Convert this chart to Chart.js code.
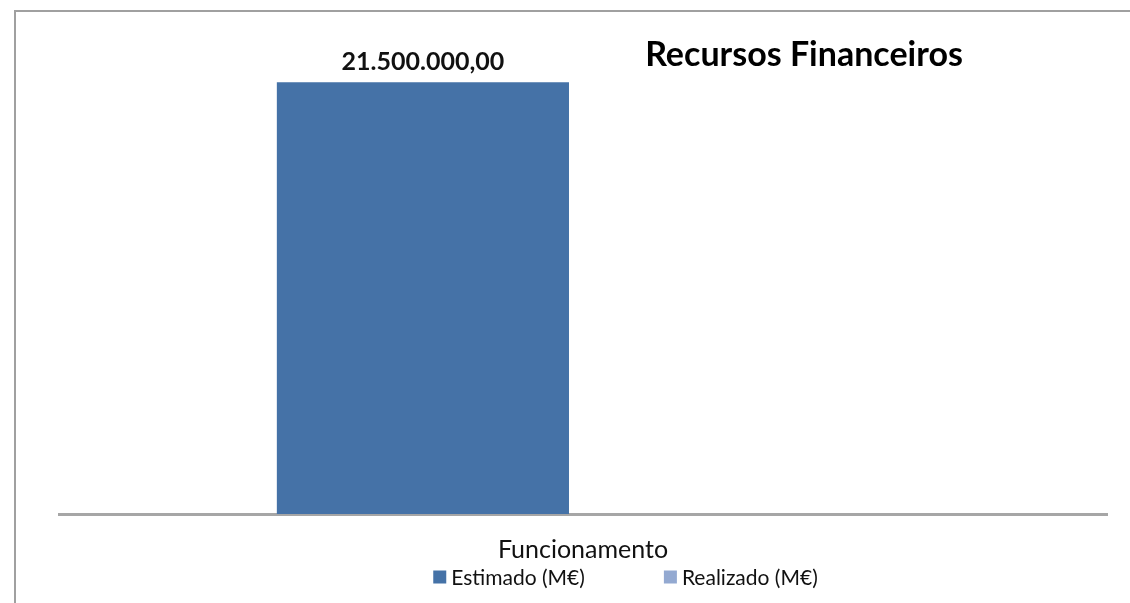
<!DOCTYPE html>
<html>
<head>
<meta charset="utf-8">
<script src="https://cdn.jsdelivr.net/npm/chart.js@4/dist/chart.umd.min.js"></script>
<style>
  html, body { margin: 0; padding: 0; background: #fff; }
  #wrap { position: relative; width: 1130px; height: 603px; }
</style>
</head>
<body>
<div id="wrap"><canvas id="chart"></canvas></div>
<script>
// chart data
const categories = ['Funcionamento'];
const seriesNames = ['Estimado (M€)', 'Realizado (M€)'];
const estimado = [21500000];
const realizado = [null];
const chartTitle = 'Recursos Financeiros';

const colors = {
  estimado: '#4572a7',
  realizado: '#93a9d1',
  frame: '#a0a0a0',
  axis: '#a6a6a6',
  text: '#111111'
};
const fontFamily = "Lato, 'Open Sans', sans-serif";

// number format like 21.500.000,00
function formatValue(v) {
  return v.toLocaleString('de-DE', { minimumFractionDigits: 2, maximumFractionDigits: 2 });
}

// outer frame (top + left lines)
const framePlugin = {
  id: 'frame',
  beforeDraw(chart) {
    const ctx = chart.ctx;
    ctx.save();
    ctx.strokeStyle = colors.frame;
    ctx.lineWidth = 2;
    ctx.beginPath();
    ctx.moveTo(chart.width, 11);
    ctx.lineTo(15, 11);
    ctx.lineTo(15, chart.height);
    ctx.stroke();
    ctx.restore();
  }
};

// value labels above bars
const valueLabels = {
  id: 'valueLabels',
  afterDatasetsDraw(chart) {
    const ctx = chart.ctx;
    ctx.save();
    ctx.font = 'bold 25px ' + fontFamily;
    ctx.fillStyle = colors.text;
    ctx.textAlign = 'center';
    ctx.textBaseline = 'alphabetic';
    chart.data.datasets.forEach((ds, i) => {
      const meta = chart.getDatasetMeta(i);
      meta.data.forEach((bar, j) => {
        const v = ds.data[j];
        if (v === null || v === undefined) return;
        ctx.fillText(formatValue(v), bar.x, bar.y - 12);
      });
    });
    ctx.restore();
  }
};

// title placed inside the plot, right side
const titlePlugin = {
  id: 'sideTitle',
  afterDraw(chart) {
    const ctx = chart.ctx;
    ctx.save();
    ctx.font = 'bold 34px ' + fontFamily;
    ctx.fillStyle = '#000';
    ctx.textAlign = 'center';
    ctx.fillText(chartTitle, 804, 66);
    ctx.restore();
  }
};

// legend row below the category label
const legendPlugin = {
  id: 'bottomLegend',
  afterDraw(chart) {
    const ctx = chart.ctx;
    const box = 13, gap = 5, spacing = 79;
    ctx.save();
    ctx.font = '21px ' + fontFamily;
    const widths = chart.data.datasets.map(ds => box + gap + ctx.measureText(ds.label).width);
    const total = widths.reduce((a, b) => a + b, 0) + spacing * (widths.length - 1);
    let x = 625.5 - total / 2;
    const cy = 577;
    ctx.textBaseline = 'middle';
    ctx.textAlign = 'left';
    chart.data.datasets.forEach((ds, i) => {
      ctx.fillStyle = ds.backgroundColor;
      ctx.fillRect(x, cy - box / 2, box, box);
      ctx.fillStyle = colors.text;
      ctx.fillText(ds.label, x + box + gap, cy + 1);
      x += widths[i] + spacing;
    });
    ctx.restore();
  }
};

new Chart(document.getElementById('chart'), {
  type: 'bar',
  data: {
    labels: categories,
    datasets: [
      { label: seriesNames[0], data: estimado, backgroundColor: colors.estimado },
      { label: seriesNames[1], data: realizado, backgroundColor: colors.realizado }
    ]
  },
  options: {
    responsive: true,
    maintainAspectRatio: false,
    animation: false,
    categoryPercentage: 0.611,
    barPercentage: 0.9125,
    layout: {
      padding: { top: 32, left: 59, right: 23, bottom: 17 }
    },
    plugins: {
      legend: { display: false },
      title: { display: false },
      tooltip: { enabled: false }
    },
    scales: {
      x: {
        grid: { display: false, drawTicks: false },
        border: { display: true, color: colors.axis, width: 3 },
        ticks: {
          padding: 21,
          color: colors.text,
          font: { family: fontFamily, size: 25 }
        }
      },
      y: {
        display: false,
        min: 0,
        max: 24000000
      }
    }
  },
  plugins: [framePlugin, valueLabels, titlePlugin, legendPlugin]
});
</script>
</body>
</html>
